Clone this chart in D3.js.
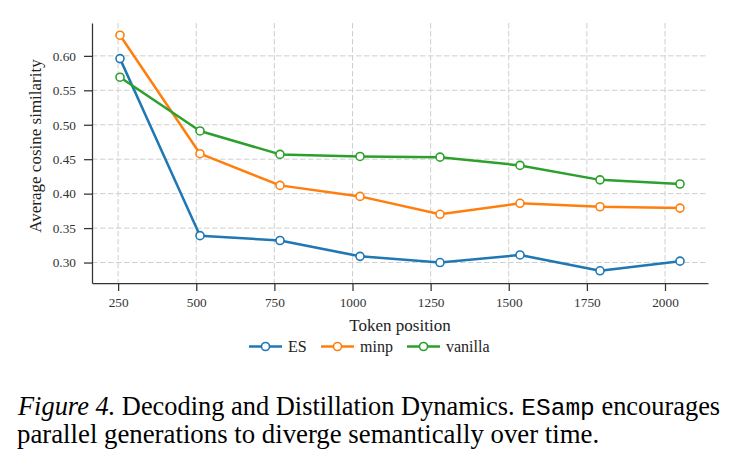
<!DOCTYPE html>
<html>
<head>
<meta charset="utf-8">
<script src="https://cdn.jsdelivr.net/npm/d3@7"></script>
<style>body { margin: 0; background: #fff; }</style>
</head>
<body>
<script>
const positions = [256, 512, 768, 1024, 1280, 1536, 1792, 2048];
const xTicks = [250, 500, 750, 1000, 1250, 1500, 1750, 2000];
const yTicks = [0.30, 0.35, 0.40, 0.45, 0.50, 0.55, 0.60];
const seriesNames = ["ES", "minp", "vanilla"];
const esValues = [0.596, 0.339, 0.332, 0.309, 0.300, 0.311, 0.288, 0.302];
const minpValues = [0.630, 0.458, 0.412, 0.396, 0.370, 0.386, 0.381, 0.379];
const vanillaValues = [0.569, 0.491, 0.457, 0.454, 0.453, 0.441, 0.420, 0.414];

const SERIF = "Liberation Serif";
const MONO = "Liberation Mono";

const width = 735;
const height = 467;
const margin = { left: 92, right: 27, top: 23, bottom: 184 };

const svg = d3.select("body")
	.append("svg")
	.attr("width", width)
	.attr("height", height);

const series = [
	{ name: seriesNames[0], values: esValues, color: "#1f77b4" },
	{ name: seriesNames[1], values: minpValues, color: "#ff7f0e" },
	{ name: seriesNames[2], values: vanillaValues, color: "#2ca02c" },
];

const xScale = d3.scaleLinear()
	.domain([166.4, 2137.6])
	.range([margin.left, width - margin.right]);

const yScale = d3.scaleLinear()
	.domain([0.2703, 0.6477])
	.range([height - margin.bottom, margin.top]);

const plotBottom = height - margin.bottom;

// caption
const captionLines = svg.append("g").attr("class", "caption");
const line1 = captionLines.append("text")
	.attr("x", 18).attr("y", 415)
	.attr("font-size", 26.4)
	.style("font-family", SERIF)
	.attr("fill", "#000");
line1.append("tspan").style("font-style", "italic").text("Figure 4.");
line1.append("tspan").text(" Decoding and Distillation Dynamics. ");
line1.append("tspan").style("font-family", MONO).attr("font-size", 24.5).text("ESamp");
line1.append("tspan").text(" encourages");
captionLines.append("text")
	.attr("x", 17).attr("y", 443)
	.attr("font-size", 26.8)
	.style("font-family", SERIF)
	.attr("fill", "#000")
	.text("parallel generations to diverge semantically over time.");

// grid
const grid = svg.append("g").attr("class", "grid");
grid.selectAll("line.v")
	.data(xTicks)
	.join("line")
	.attr("class", "v")
	.attr("x1", (d) => xScale(d)).attr("x2", (d) => xScale(d))
	.attr("y1", margin.top).attr("y2", plotBottom)
	.attr("stroke", "#cfcfcf").attr("stroke-width", 1).attr("stroke-dasharray", "5.5,2.5");
grid.selectAll("line.h")
	.data(yTicks)
	.join("line")
	.attr("class", "h")
	.attr("x1", margin.left).attr("x2", width - margin.right)
	.attr("y1", (d) => yScale(d)).attr("y2", (d) => yScale(d))
	.attr("stroke", "#cfcfcf").attr("stroke-width", 1).attr("stroke-dasharray", "5.5,2.5");

// axes
const xAxis = svg.append("g")
	.attr("transform", `translate(0 ${plotBottom})`)
	.call(d3.axisBottom(xScale).tickValues(xTicks).tickFormat(d3.format("d")).tickSize(8).tickPadding(7).tickSizeOuter(0));
const yAxis = svg.append("g")
	.attr("transform", `translate(${margin.left} 0)`)
	.call(d3.axisLeft(yScale).tickValues(yTicks).tickFormat(d3.format(".2f")).tickSize(8).tickPadding(8).tickSizeOuter(0));
[xAxis, yAxis].forEach((ax) => {
	ax.attr("font-family", SERIF).attr("font-size", 13.3);
	ax.select(".domain").attr("stroke", "#333").attr("stroke-width", 1.25);
	ax.selectAll(".tick line").attr("stroke", "#333").attr("stroke-width", 1.25);
	ax.selectAll(".tick text").style("font-family", SERIF).attr("fill", "#333");
});

// axis titles
svg.append("text")
	.attr("x", (margin.left + width - margin.right) / 2)
	.attr("y", 331)
	.attr("text-anchor", "middle")
	.attr("font-size", 17)
	.style("font-family", SERIF)
	.attr("fill", "#222")
	.text("Token position");

svg.append("text")
	.attr("transform", `translate(41 146) rotate(-90)`)
	.attr("text-anchor", "middle")
	.attr("font-size", 17)
	.style("font-family", SERIF)
	.attr("fill", "#222")
	.text("Average cosine similarity");

// lines
const line = d3.line()
	.x((d, i) => xScale(positions[i]))
	.y((d) => yScale(d));

const lines = svg.append("g").attr("class", "lines");
series.forEach((s) => {
	lines.append("path")
		.datum(s.values)
		.attr("fill", "none")
		.attr("stroke", s.color)
		.attr("stroke-width", 2.5)
		.attr("stroke-linejoin", "round")
		.attr("d", line);
	lines.selectAll(null)
		.data(s.values)
		.join("circle")
		.attr("cx", (d, i) => xScale(positions[i]))
		.attr("cy", (d) => yScale(d))
		.attr("r", 4)
		.attr("fill", "#fff")
		.attr("stroke", s.color)
		.attr("stroke-width", 1.6);
});

// legend
const legendX = [249, 321, 407];
const legend = svg.append("g").attr("transform", "translate(0 346.5)");
series.forEach((s, i) => {
	const row = legend.append("g").attr("transform", `translate(${legendX[i]} 0)`);
	row.append("line")
		.attr("x1", 0).attr("x2", 33)
		.attr("stroke", s.color).attr("stroke-width", 2.5);
	row.append("circle")
		.attr("cx", 16.5).attr("r", 4)
		.attr("fill", "#fff").attr("stroke", s.color).attr("stroke-width", 1.6);
	row.append("text")
		.attr("x", 39).attr("y", 5.5)
		.attr("font-size", 16)
		.style("font-family", SERIF)
		.attr("fill", "#222")
		.text(s.name);
});
</script>
</body>
</html>
